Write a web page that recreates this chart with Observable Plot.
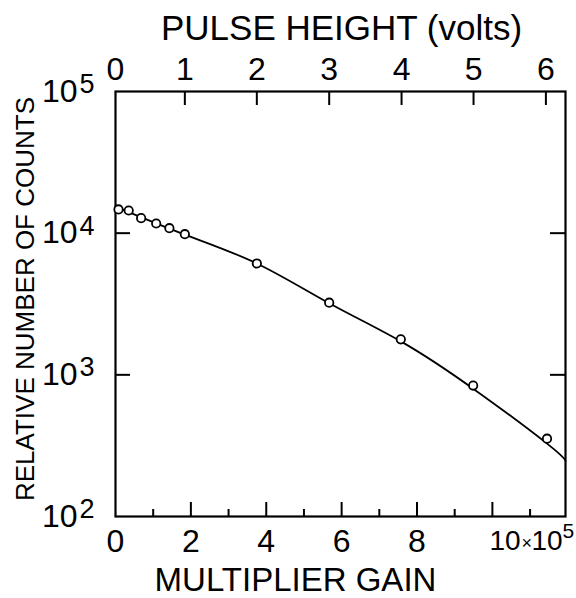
<!DOCTYPE html>
<html>
<head>
<meta charset="utf-8">
<script src="https://cdn.jsdelivr.net/npm/d3@7"></script>
<script src="https://cdn.jsdelivr.net/npm/@observablehq/plot@0.6"></script>
<style>
  html, body { margin: 0; padding: 0; background: white; }
</style>
</head>
<body>
<div id="chart"></div>
<script>
// Measured points (x = multiplier gain in units of 1e5, y = relative counts)
const pointGain   = [0.08, 0.35, 0.68, 1.08, 1.43, 1.84, 3.75, 5.67, 7.57, 9.49, 11.45];
const pointCounts = [14700, 14450, 12760, 11700, 10840, 9830, 6110, 3230, 1780, 840, 354];

// Fitted curve
const curveGain   = [0, 1.84, 3.75, 5.67, 7.57, 9.49, 11.45, 11.94];
const curveCounts = [15400, 9770, 6110, 3200, 1722, 798, 327, 248];

// Axes
const xMajorTicks = [0, 2, 4, 6, 8];
const xMinorTicks = [1, 3, 5, 7, 9, 11];
const xTickLabels = ["0", "2", "4", "6", "8"];
const xLastTick = 10;
const xLastLabel = ["10", "×", "10", "5"];
const yTicks = [100, 1000, 10000, 100000];
const yExponents = ["2", "3", "4", "5"];
const yInnerTicks = [1000, 10000];
const voltLabels = ["0", "1", "2", "3", "4", "5", "6"];
const voltGain   = [0, 1.84, 3.75, 5.67, 7.59, 9.50, 11.42];

const xTitle = "MULTIPLIER GAIN";
const topTitle = "PULSE HEIGHT (volts)";
const yTitle = "RELATIVE NUMBER OF COUNTS";

const W = 576, H = 598;
const mL = 115, mR = 11, mT = 91, mB = 82;
const FW = W - mL - mR, FH = H - mT - mB;

const points = pointGain.map((g, i) => ({g, c: pointCounts[i]}));
const curve = curveGain.map((g, i) => ({g, c: curveCounts[i]}));
const yLab = yTicks.map((v, i) => ({v, e: yExponents[i]}));
const xLab = xMajorTicks.map((v, i) => ({v, t: xTickLabels[i]}));
const vLab = voltGain.map((g, i) => ({g, t: voltLabels[i]}));

const lastOpts = (dx, dy, fontSize) => ({x: () => xLastTick, frameAnchor: "bottom", lineAnchor: "top", textAnchor: "start", dx, dy, fontSize});

const plot = Plot.plot({
  width: W, height: H,
  marginLeft: mL, marginRight: mR, marginTop: mT, marginBottom: mB,
  style: {fontFamily: "'Liberation Sans', Arial, sans-serif", background: "white", color: "black"},
  x: {domain: [0, 11.94], axis: null},
  y: {type: "log", domain: [100, 100000], axis: null},
  marks: [
    // inward ticks
    Plot.ruleX([...xMajorTicks.slice(1), xLastTick], {x: d => d, insetTop: FH - 14, strokeWidth: 2}),
    Plot.ruleX(xMinorTicks, {x: d => d, insetTop: FH - 7, strokeWidth: 2}),
    Plot.ruleX(voltGain.slice(1), {x: d => d, insetBottom: FH - 14, strokeWidth: 2}),
    Plot.ruleY(yInnerTicks, {y: d => d, insetRight: FW - 15, strokeWidth: 2}),
    Plot.ruleY(yInnerTicks, {y: d => d, insetLeft: FW - 15, strokeWidth: 2}),
    Plot.frame({strokeWidth: 2.2}),
    // curve and points
    Plot.line(curve, {x: "g", y: "c", curve: "natural", strokeWidth: 1.8}),
    Plot.dot(points, {x: "g", y: "c", r: 4.2, stroke: "black", strokeWidth: 1.8, fill: "white"}),
    // bottom tick labels
    Plot.text(xLab, {x: "v", text: "t", frameAnchor: "bottom", lineAnchor: "top", dy: 13, fontSize: 32}),
    Plot.text([xLastLabel[0]], lastOpts(-3, 14, 28)),
    Plot.text([xLastLabel[1]], lastOpts(29, 20, 18)),
    Plot.text([xLastLabel[2]], lastOpts(39, 14, 28)),
    Plot.text([xLastLabel[3]], lastOpts(70, 7, 21)),
    // top tick labels
    Plot.text(vLab, {x: "g", text: "t", frameAnchor: "top", lineAnchor: "bottom", dy: -12, fontSize: 32}),
    // y tick labels
    Plot.text(yLab, {y: "v", text: () => "10", frameAnchor: "left", textAnchor: "end", dx: -38, fontSize: 32}),
    Plot.text(yLab, {y: "v", text: "e", frameAnchor: "left", textAnchor: "start", dx: -36, dy: -7, fontSize: 27}),
    // titles
    Plot.text([xTitle], {frameAnchor: "bottom", lineAnchor: "bottom", dy: 74, dx: -45, fontSize: 33}),
    Plot.text([topTitle], {frameAnchor: "top", lineAnchor: "bottom", dy: -52, dx: 1, fontSize: 35}),
    Plot.text([yTitle], {frameAnchor: "left", textAnchor: "middle", rotate: -90, dx: -90, dy: -5, fontSize: 26})
  ]
});
document.getElementById("chart").appendChild(plot);
</script>
</body>
</html>
